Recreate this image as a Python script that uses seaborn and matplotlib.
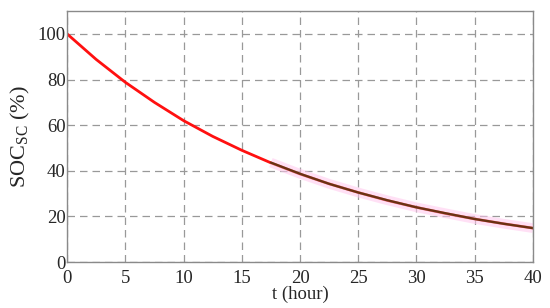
#!/usr/bin/env python3
"""
SOC of the supercapacitor over time.
"""

import matplotlib
matplotlib.use("Agg")
import matplotlib.pyplot as plt
import numpy as np
import pandas as pd
import seaborn as sns

# values
t_hour = [0, 2.5, 5, 7.5, 10, 12.5, 15, 17.5, 20, 22.5, 25, 27.5, 30, 32.5, 35, 37.5, 40]
soc_sim = [100, 88.8, 78.8, 70.0, 62.0, 55.1, 49.0, 43.5, 38.6, 34.3, 30.5, 27.0, 24.0, 21.3, 18.9, 16.8, 14.9]

t_meas = [17.5, 20, 22.5, 25, 27.5, 30, 32.5, 35, 37.5, 40]
soc_meas = [43.6, 38.7, 34.3, 30.5, 27.1, 24.0, 21.4, 18.9, 16.8, 14.9]

sns.set_style("white")
plt.rcParams["font.family"] = ["Liberation Serif", "DejaVu Serif"]
plt.rcParams["mathtext.fontset"] = "custom"
plt.rcParams["mathtext.rm"] = "Liberation Serif"
plt.rcParams["mathtext.it"] = "Liberation Serif"

df_sim = pd.DataFrame({"t": t_hour, "soc": soc_sim})
df_meas = pd.DataFrame({"t": t_meas, "soc": soc_meas})

fig, ax = plt.subplots(figsize=(5.5, 3.08), dpi=100)
fig.subplots_adjust(left=0.122, right=0.969, bottom=0.149, top=0.964)

sns.lineplot(data=df_sim, x="t", y="soc", color="#ff1010", linewidth=2.0, ax=ax)
sns.lineplot(data=df_meas, x="t", y="soc", color="#ffc8ee", linewidth=7, alpha=0.55,
             solid_capstyle="butt", ax=ax)
sns.lineplot(data=df_meas, x="t", y="soc", color="#6a3212", linewidth=1.7, ax=ax)

ax.set_xlim(0, 40)
ax.set_ylim(0, 110)
ax.set_xticks(np.arange(0, 41, 5))
ax.set_yticks(np.arange(0, 101, 20))
ax.grid(True, color="#999999", linestyle=(0, (6, 4)), linewidth=0.9)
for s in ax.spines.values():
    s.set_color("#8a8a8a")
    s.set_linewidth(1.0)
ax.tick_params(labelsize=13.5, length=0)
ax.tick_params(axis="x", pad=6)
ax.tick_params(axis="y", pad=1)

ax.set_xlabel("t (hour)", fontsize=13.5, labelpad=-1)
ax.set_ylabel("SOC$_{\\mathrm{SC}}$ (%)", fontsize=16, labelpad=4)

fig.savefig("out.png", dpi=100)
